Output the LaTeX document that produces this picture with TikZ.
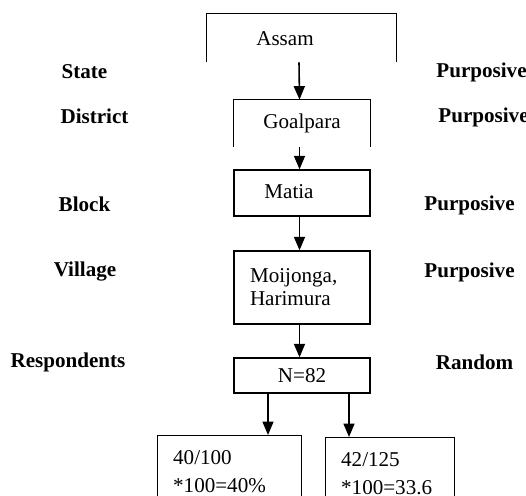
\documentclass[tikz,border=0pt]{standalone}
\usepackage{fontspec}
\setmainfont{Liberation Serif}
\usetikzlibrary{arrows.meta}

\begin{document}
\begin{tikzpicture}[
    boxstyle/.style={rectangle, draw, line width=0.75pt, minimum width=2.72cm, inner sep=0pt, font=\fontsize{12}{13}\selectfont},
    openstyle/.style={rectangle, inner sep=0pt, font=\fontsize{12}{13}\selectfont},
    samplestyle/.style={rectangle, draw, line width=0.75pt, anchor=north west, align=left, inner xsep=0.31cm, inner ysep=0.3cm, font=\fontsize{12}{13}\selectfont},
    levelstyle/.style={inner sep=0pt, font=\fontsize{12}{13}\selectfont\bfseries},
    arrowstyle/.style={-{Triangle[length=0.27cm,width=0.22cm]}, line width=0.9pt}
]
    \clip (0,0) rectangle (10.52,-9.90);

    % sampling stages
    \node[openstyle, minimum width=3.78cm, minimum height=0.96cm,
          label={[xshift=-0.33cm, yshift=-0.02cm, font=\fontsize{12}{13}\selectfont]center:Assam}] (assam) at (6.03,-0.76) {};
    \node[openstyle, minimum width=2.72cm, minimum height=0.94cm] (goalpara) at (6.04,-2.47) {Goalpara};
    \node[boxstyle, minimum height=0.92cm,
          label={[xshift=-0.26cm, yshift=0.02cm, font=\fontsize{12}{13}\selectfont]center:Matia}] (matia) at (6.04,-3.86) {};
    \node[boxstyle, minimum height=1.46cm, text width=2.08cm, align=left] (village) at (6.04,-5.75) {Moijonga,\\Harimura};
    \node[boxstyle, minimum height=0.70cm] (n82) at (6.04,-7.51) {N=82};
    \node[samplestyle, text width=2.26cm] (sampleA) at (3.14,-8.70) {40/100\\[3pt]*100=40\%};
    \node[samplestyle, text width=1.96cm] (sampleB) at (6.50,-8.74) {42/125\\[3pt]*100=33.6};

    % boxes open at the bottom
    \draw[line width=0.75pt] (assam.south west) |- (assam.north east) -- (assam.south east);
    \draw[line width=0.75pt] (goalpara.south west) |- (goalpara.north east) -- (goalpara.south east);

    % levels
    \node[levelstyle] (state) at (1.69,-1.44) {State};
    \node[levelstyle] (district) at (1.89,-2.32) {District};
    \node[levelstyle] (block) at (1.69,-4.08) {Block};
    \node[levelstyle] (villagelabel) at (1.70,-5.44) {Village};
    \node[levelstyle] (respondents) at (1.36,-7.24) {Respondents};

    % methods
    \node[levelstyle] (stateM) at (9.63,-1.44) {Purposive};
    \node[levelstyle] (districtM) at (9.67,-2.34) {Purposive};
    \node[levelstyle] (blockM) at (9.39,-4.10) {Purposive};
    \node[levelstyle] (villageM) at (9.39,-5.44) {Purposive};
    \node[levelstyle] (respondentsM) at (9.49,-7.24) {Random};

    \draw[arrowstyle] ([xshift=-0.05cm]assam.south) -- ([xshift=-0.05cm]goalpara.north);
    \draw[arrowstyle] ([xshift=-0.05cm]goalpara.south) -- ([xshift=-0.05cm]matia.north);
    \draw[arrowstyle] ([xshift=-0.05cm]matia.south) -- ([xshift=-0.05cm]village.north);
    \draw[arrowstyle] ([xshift=-0.05cm]village.south) -- ([xshift=-0.05cm]n82.north);
    \draw[arrowstyle] ([xshift=-0.68cm]n82.south) -- ([xshift=-0.68cm]n82.south |- sampleA.north);
    \draw[arrowstyle] ([xshift=0.94cm]n82.south) -- ([xshift=0.94cm]n82.south |- sampleB.north);
\end{tikzpicture}
\end{document}
